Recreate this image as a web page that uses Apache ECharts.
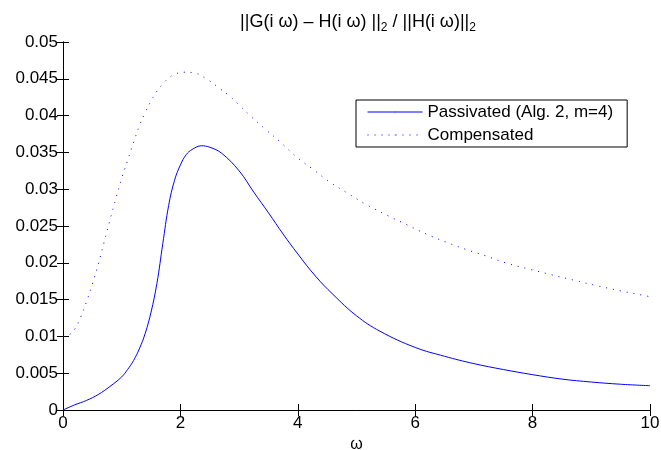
<!DOCTYPE html>
<html>
<head>
<meta charset="utf-8">
<script src="https://cdn.jsdelivr.net/npm/echarts@6/dist/echarts.min.js"></script>
<style>html,body{margin:0;padding:0;background:#fff;overflow:hidden}#c{width:661px;height:450px}</style>
</head>
<body>
<div id="c"></div>
<script>
var xTicks = [0, 2, 4, 6, 8, 10];
var omegaPassivated = [0, 0.2, 0.4, 0.6, 0.8, 1.0, 1.1, 1.2, 1.3, 1.4, 1.5, 1.6, 1.7, 1.8, 1.9, 2.0, 2.1, 2.2, 2.36, 2.5, 2.7, 3.0, 3.25, 3.5, 3.75, 4.0, 4.3, 4.6, 5.0, 5.4, 6.0, 6.5, 7.0, 7.5, 8.0, 8.5, 9.0, 9.5, 10];
var passivated = [0, 0.0007, 0.0013, 0.0021, 0.0032, 0.0045, 0.0055, 0.0067, 0.0083, 0.0104, 0.0133, 0.0172, 0.0226, 0.0278, 0.0312, 0.0333, 0.0347, 0.0354, 0.0359, 0.0357, 0.0349, 0.0325, 0.0296, 0.0268, 0.0239, 0.0212, 0.0182, 0.0157, 0.0128, 0.0107, 0.0085, 0.0073, 0.0063, 0.0055, 0.0048, 0.0042, 0.0038, 0.0035, 0.0033];
var omegaCompensated = [0, 0.1, 0.2, 0.3, 0.4, 0.5, 0.6, 0.7, 0.8, 0.9, 1.0, 1.1, 1.2, 1.3, 1.4, 1.5, 1.6, 1.7, 1.8, 1.9, 2.05, 2.24, 2.46, 2.65, 2.83, 2.98, 3.16, 3.34, 3.44, 3.69, 3.99, 4.26, 4.54, 4.86, 5.17, 5.51, 5.85, 6.19, 6.53, 6.87, 7.18, 7.54, 7.96, 8.31, 8.72, 9.09, 9.49, 9.87, 10];
var compensated = [0.0100, 0.0102, 0.0110, 0.0126, 0.0147, 0.0171, 0.0198, 0.0228, 0.0258, 0.0287, 0.0315, 0.0339, 0.0363, 0.0386, 0.0404, 0.0420, 0.0433, 0.0443, 0.0451, 0.0456, 0.0459, 0.0458, 0.0449, 0.0438, 0.0427, 0.0416, 0.0402, 0.0389, 0.0382, 0.0365, 0.0343, 0.0327, 0.0310, 0.0294, 0.0279, 0.0265, 0.0252, 0.0239, 0.0228, 0.0218, 0.0210, 0.0200, 0.0191, 0.0184, 0.0176, 0.0169, 0.0162, 0.0156, 0.0154];
var seriesNames = ['Passivated (Alg. 2, m=4)', 'Compensated'];

function pairs(xs, ys) { return xs.map(function (x, i) { return [x, ys[i]]; }); }

var font = 'Liberation Sans, Arial, sans-serif';
var blue = '#0000ff';
var axisLine = { show: true, lineStyle: { color: '#000', width: 1 } };
var tick = { show: true, inside: true, length: 6, lineStyle: { color: '#000' } };

var chart = echarts.init(document.getElementById('c'), null, { renderer: 'canvas' });
chart.setOption({
  animation: false,
  backgroundColor: '#fff',
  color: [blue, blue],
  title: {
    text: '||G(i ω) – H(i ω) ||{s|2} / ||H(i ω)||{s|2}',
    left: 353,
    textAlign: 'center',
    top: 6,
    textStyle: {
      fontFamily: font, fontSize: 18, fontWeight: 'normal', color: '#000',
      rich: { s: { fontFamily: font, fontSize: 12, color: '#000', padding: [11, 0, 0, 0] } }
    }
  },
  grid: { left: 63, right: 11, top: 42, bottom: 40, containLabel: false, outerBoundsMode: 'none' },
  xAxis: [{
    type: 'value', min: 0, max: 10, interval: 2, position: 'bottom',
    name: 'ω', nameLocation: 'middle', nameGap: 23,
    nameTextStyle: { fontFamily: font, fontSize: 16, color: '#000' },
    axisLine: axisLine, axisTick: tick, splitLine: { show: false },
    axisLabel: { fontFamily: font, fontSize: 17, color: '#000', margin: 5 }
  }, {
    type: 'value', min: 0, max: 10, interval: 2, position: 'top',
    axisLine: axisLine, axisTick: tick, splitLine: { show: false },
    axisLabel: { show: false }
  }],
  yAxis: [{
    type: 'value', min: 0, max: 0.05, interval: 0.005, position: 'left',
    axisLine: axisLine, axisTick: tick, splitLine: { show: false },
    axisLabel: { fontFamily: font, fontSize: 17, color: '#000', margin: 5 }
  }, {
    type: 'value', min: 0, max: 0.05, interval: 0.005, position: 'right',
    axisLine: axisLine, axisTick: tick, splitLine: { show: false },
    axisLabel: { show: false }
  }],
  legend: {
    orient: 'vertical', left: 356, top: 100,
    itemWidth: 55, itemHeight: 1, itemGap: 3,
    padding: [2, 14, 2, 11],
    borderColor: '#000', borderWidth: 1, backgroundColor: '#fff',
    lineStyle: { width: 1 },
    textStyle: { fontFamily: font, fontSize: 17, color: '#000', lineHeight: 20 },
    data: seriesNames
  },
  series: [{
    name: seriesNames[0], type: 'line', xAxisIndex: 0, yAxisIndex: 0,
    data: pairs(omegaPassivated, passivated),
    showSymbol: false, symbol: 'none', smooth: 0.4,
    lineStyle: { color: blue, width: 1, type: 'solid' }, itemStyle: { color: blue }
  }, {
    name: seriesNames[1], type: 'line', xAxisIndex: 0, yAxisIndex: 0,
    data: pairs(omegaCompensated, compensated),
    showSymbol: false, symbol: 'none', smooth: 0.4,
    lineStyle: { color: blue, width: 1, type: [1, 6] }, itemStyle: { color: blue }
  }]
});
</script>
</body>
</html>
